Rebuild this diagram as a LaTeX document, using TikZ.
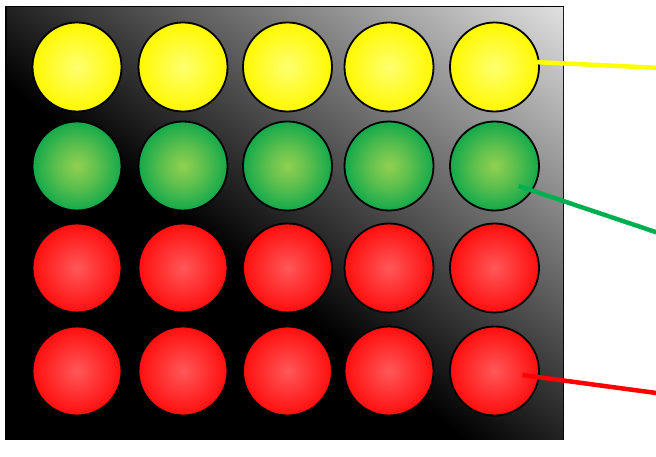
\documentclass[tikz,border=0pt]{standalone}
\usepackage{tikz}
\pgfdeclarefunctionalshading{bgshade}{\pgfpointorigin}{\pgfpoint{557bp}{432bp}}{}{
432 div exch 557 div add 2 div 0.411 sub 1.494 mul dup 0 lt {pop 0} if dup 1 gt {pop 1} if dup dup
}
\definecolor{ylin}{HTML}{FFFF70}
\definecolor{ylout}{HTML}{FFF800}
\definecolor{grin}{HTML}{92D050}
\definecolor{grout}{HTML}{14A94B}
\definecolor{rdin}{HTML}{FF5858}
\definecolor{rdout}{HTML}{FF0E0E}
\definecolor{yline}{HTML}{FFFF00}
\definecolor{gline}{HTML}{00B050}
\definecolor{rline}{HTML}{FF0000}
\pgfdeclareradialshading{yshade}{\pgfpointorigin}{color(0bp)=(ylin); color(11bp)=(ylin!55!ylout); color(25bp)=(ylout); color(50bp)=(ylout)}
\pgfdeclareradialshading{gshade}{\pgfpointorigin}{color(0bp)=(grin); color(11bp)=(grin!60!grout); color(25bp)=(grout); color(50bp)=(grout)}
\pgfdeclareradialshading{rshade}{\pgfpointorigin}{color(0bp)=(rdin); color(11bp)=(rdin!55!rdout); color(25bp)=(rdout); color(50bp)=(rdout)}
\tikzset{
  lamp/.style={circle, inner sep=0pt, minimum size=89bp, draw=black, line width=1.8bp, shade},
  ylamp/.style={lamp, shading=yshade},
  glamp/.style={lamp, shading=gshade},
  rlamp/.style={lamp, shading=rshade},
  lead/.style={line width=4.5bp, line cap=butt}
}
\begin{document}
\begin{tikzpicture}[x=1bp,y=-1bp]
\useasboundingbox (0,0) rectangle (656,457);
\node[inner sep=0pt, outer sep=0pt, anchor=south west, draw=black, line width=1.5bp] (board) at (6,439) {\pgfuseshading{bgshade}};
\foreach \c/\x in {1/77,2/183,3/287.5,4/389,5/494.5}{
  \node[ylamp] (c1\c) at (\x,67) {};
  \node[glamp] (c2\c) at (\x,166) {};
  \node[rlamp] (c3\c) at (\x,268) {};
  \node[rlamp] (c4\c) at (\x,371) {};
}
\coordinate (yend) at (660,68);
\coordinate (gend) at (660,233.5);
\coordinate (rend) at (660,393.5);
\draw[lead, yline] ([shift={(39,-5)}]c15.center) -- (yend);
\draw[lead, gline] ([shift={(24,20)}]c25.center) -- (gend);
\draw[lead, rline] ([shift={(28,4)}]c45.center) -- (rend);
\end{tikzpicture}
\end{document}
